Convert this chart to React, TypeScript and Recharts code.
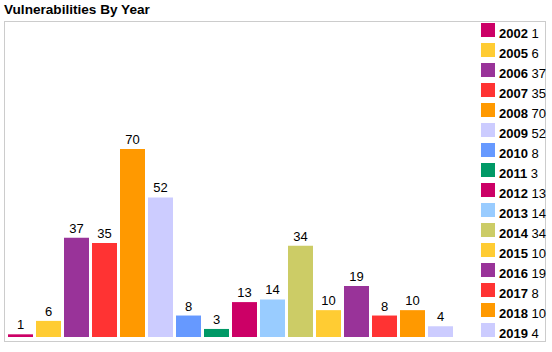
import React from "react";
import { BarChart, Bar, XAxis, YAxis, Cell, LabelList } from "recharts";

const years = ["2002", "2005", "2006", "2007", "2008", "2009", "2010", "2011", "2012", "2013", "2014", "2015", "2016", "2017", "2018", "2019"];
const counts = [1, 6, 37, 35, 70, 52, 8, 3, 13, 14, 34, 10, 19, 8, 10, 4];
const colors = ["#CC0066", "#FFCC33", "#993399", "#FF3333", "#FF9900", "#CCCCFF", "#6699FF", "#009966", "#CC0066", "#99CCFF", "#CCCC66", "#FFCC33", "#993399", "#FF3333", "#FF9900", "#CCCCFF"];

const font = "Arial, 'Liberation Sans', sans-serif";

const chartData = years.map((year, i) => ({ year, count: counts[i] }));

export default function App() {
  return (
    <div style={{ position: "absolute", left: 0, top: 0, width: 552, height: 352, fontFamily: font, background: "#fff" }}>
      <div style={{ position: "absolute", left: 4, top: 2, fontSize: 13.6, fontWeight: "bold", color: "#000" }}>
        Vulnerabilities By Year
      </div>
      <div style={{ position: "absolute", left: 4, top: 21, width: 540, height: 319, border: "1px solid #ccc" }} />
      <div style={{ position: "absolute", left: 6, top: 21 }}>
        <BarChart width={448} height={316} data={chartData} margin={{ top: 0, right: 0, bottom: 0, left: 0 }} barSize={25} barCategoryGap={3}>
          <XAxis dataKey="year" hide />
          <YAxis hide domain={[0, 117.7]} />
          <Bar dataKey="count" isAnimationActive={false}>
            {chartData.map((d, i) => (
              <Cell key={d.year} fill={colors[i]} />
            ))}
            <LabelList dataKey="count" position="top" offset={5} fill="#000" fontSize={13} fontFamily={font} />
          </Bar>
        </BarChart>
      </div>
      <div style={{ position: "absolute", left: 481, top: 23 }}>
        {years.map((year, i) => (
          <div key={year} style={{ display: "flex", alignItems: "center", height: 20, fontSize: 13, color: "#000", whiteSpace: "nowrap" }}>
            <span style={{ display: "inline-block", width: 14, height: 14, background: colors[i], marginRight: 4, marginTop: -6 }} />
            <span style={{ fontWeight: "bold" }}>{year}</span>
            <span>&nbsp;{counts[i]}</span>
          </div>
        ))}
      </div>
    </div>
  );
}
